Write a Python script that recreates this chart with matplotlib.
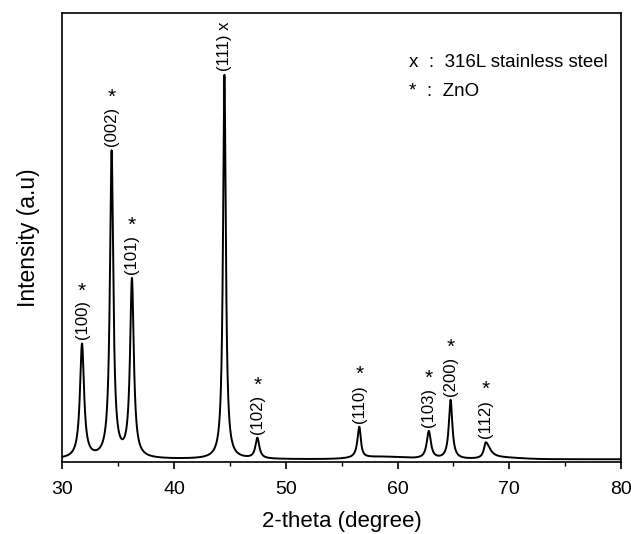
import numpy as np
import matplotlib.pyplot as plt

plt.rcParams['font.family'] = ['Liberation Sans', 'DejaVu Sans']

# peak parameters (2-theta, intensity in a.u., fwhm left/right)
PEAK_POS = [31.75, 34.40, 36.22, 44.50, 47.45, 56.58, 62.80, 64.75, 67.90]
PEAK_HEIGHT = [1140, 3060, 1780, 3840, 205, 310, 275, 590, 160]
FWHM_LEFT = [0.44, 0.36, 0.40, 0.30, 0.42, 0.40, 0.44, 0.38, 0.40]
FWHM_RIGHT = [0.44, 0.36, 0.40, 0.30, 0.42, 0.32, 0.44, 0.38, 0.90]
PEAK_LABEL = ['(100)', '(002)', '(101)', '(111) x', '(102)', '(110)',
              '(103)', '(200)', '(112)']
PEAK_MARK = ['*', '*', '*', '', '*', '*', '*', '*', '*']

# broad background humps (center, height, sigma)
HUMP_POS = [58.6, 69.5]
HUMP_HEIGHT = [24, 12]
HUMP_SIGMA = [2.0, 1.6]
BASELINE = 26

X_MIN, X_MAX = 30, 80


def pattern(x):
  y = np.full_like(x, BASELINE, dtype=float)
  for p, h, wl, wr in zip(PEAK_POS, PEAK_HEIGHT, FWHM_LEFT, FWHM_RIGHT):
    w = np.where(x < p, wl, wr)
    y += h / (1 + (2 * (x - p) / w) ** 2)
  for c, h, s in zip(HUMP_POS, HUMP_HEIGHT, HUMP_SIGMA):
    y += h * np.exp(-(x - c) ** 2 / (2 * s ** 2))
  return y


fig = plt.figure(figsize=(6.31, 5.34), dpi=100)
ax = fig.add_axes([0.099, 0.135, 0.885, 0.841])

x = np.linspace(X_MIN, X_MAX, 5001)
y = pattern(x)
ax.plot(x, y, color='black', linewidth=1.4)

for p, lab, mark in zip(PEAK_POS, PEAK_LABEL, PEAK_MARK):
  top = pattern(np.array([p]))[0]
  ax.annotate(lab, xy=(p, top), xytext=(0, 4), textcoords='offset pixels',
              rotation=90, ha='center', va='bottom', fontsize=12)
  if mark:
    ax.annotate(mark, xy=(p, top), xytext=(0, 43), textcoords='offset pixels',
                ha='center', va='bottom', fontsize=15)

ax.text(0.62, 0.889, 'x  :  316L stainless steel', transform=ax.transAxes,
        fontsize=13.5, ha='left', va='center')
ax.text(0.62, 0.824, '*  :  ZnO', transform=ax.transAxes,
        fontsize=13.5, ha='left', va='center')

ax.set_xlim(X_MIN, X_MAX)
ax.set_ylim(0, 4490)
ax.set_xticks(np.arange(30, 81, 10))
ax.set_xticks(np.arange(35, 80, 10), minor=True)
ax.set_yticks([])
ax.tick_params(axis='x', which='major', direction='out', length=5, width=1.2,
               labelsize=14, pad=9)
ax.tick_params(axis='x', which='minor', direction='out', length=3, width=1.0)
for s in ax.spines.values():
  s.set_linewidth(1.2)

ax.set_xlabel('2-theta (degree)', fontsize=16, labelpad=9)
ax.set_ylabel('Intensity (a.u)', fontsize=16.5, labelpad=16)

plt.savefig('out.png', dpi=100)
